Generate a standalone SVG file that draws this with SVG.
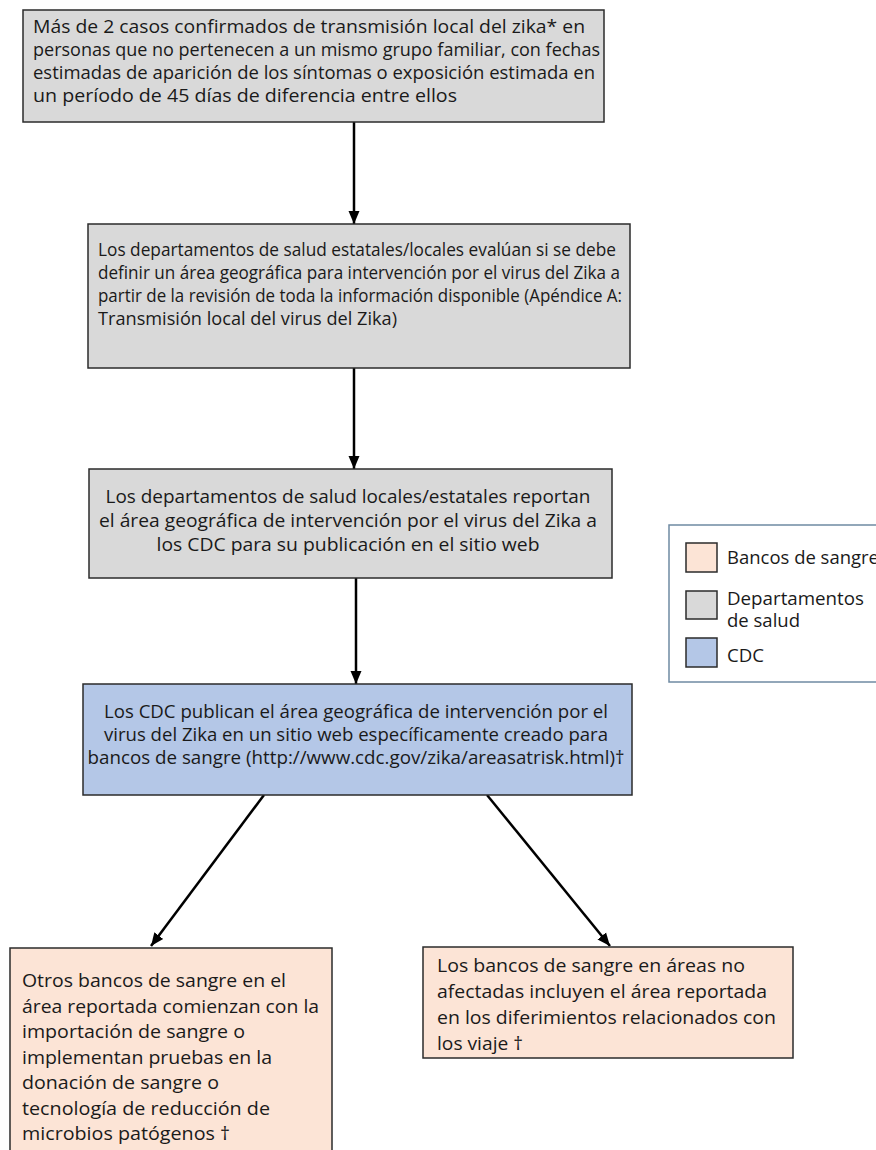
<svg xmlns="http://www.w3.org/2000/svg" width="876" height="1150" viewBox="0 0 876 1150">
<defs>
<style>
.box{stroke:#2b2b2b;stroke-width:1.5}
.gray{fill:#d9d9d9}
.blue{fill:#b4c7e7}
.peach{fill:#fce4d6}
.t{font-family:"Open Sans","Noto Sans",sans-serif;fill:#1a1a1a}
.c{text-anchor:middle}
.conn{stroke:#000;stroke-width:2.5;fill:none}
.leg{fill:#fff;stroke:#6f8aa3;stroke-width:1.5}
</style>
<marker id="ah" markerUnits="userSpaceOnUse" markerWidth="14" markerHeight="14" viewBox="0 0 14 14" refX="13" refY="7" orient="auto">
<path d="M0,1.5 L13,7 L0,12.5 Z" fill="#000"/>
</marker>
</defs>
<rect width="876" height="1150" fill="#fff"/>

<g id="connectors">
<line class="conn" x1="354" y1="122" x2="354" y2="224" marker-end="url(#ah)"/>
<line class="conn" x1="354" y1="368" x2="354" y2="469" marker-end="url(#ah)"/>
<line class="conn" x1="356" y1="578" x2="356" y2="684" marker-end="url(#ah)"/>
<line class="conn" x1="264" y1="795" x2="151" y2="946" marker-end="url(#ah)"/>
<line class="conn" x1="487" y1="795" x2="610" y2="946" marker-end="url(#ah)"/>
</g>

<g id="n1">
<rect class="box gray" x="23" y="10" width="581" height="112"/>
<g class="t" font-size="17.5">
<text x="33" y="33" textLength="552" lengthAdjust="spacingAndGlyphs">Más de 2 casos confirmados de transmisión local del zika* en</text>
<text x="33" y="56" textLength="567" lengthAdjust="spacingAndGlyphs">personas que no pertenecen a un mismo grupo familiar, con fechas</text>
<text x="33" y="79" textLength="562" lengthAdjust="spacingAndGlyphs">estimadas de aparición de los síntomas o exposición estimada en</text>
<text x="33" y="102" textLength="424" lengthAdjust="spacingAndGlyphs">un período de 45 días de diferencia entre ellos</text>
</g>
</g>

<g id="n2">
<rect class="box gray" x="88" y="224" width="542" height="144"/>
<g class="t" font-size="17.5">
<text x="98" y="256" textLength="518" lengthAdjust="spacingAndGlyphs">Los departamentos de salud estatales/locales evalúan si se debe</text>
<text x="98" y="279" textLength="522" lengthAdjust="spacingAndGlyphs">definir un área geográfica para intervención por el virus del Zika a</text>
<text x="98" y="302" textLength="524" lengthAdjust="spacingAndGlyphs">partir de la revisión de toda la información disponible (Apéndice A:</text>
<text x="98" y="325" textLength="299" lengthAdjust="spacingAndGlyphs">Transmisión local del virus del Zika)</text>
</g>
</g>

<g id="n3">
<rect class="box gray" x="89" y="469" width="523" height="109"/>
<g class="t c" font-size="18">
<text x="348" y="503" textLength="485" lengthAdjust="spacingAndGlyphs">Los departamentos de salud locales/estatales reportan</text>
<text x="348" y="527" textLength="498" lengthAdjust="spacingAndGlyphs">el área geográfica de intervención por el virus del Zika a</text>
<text x="348" y="551" textLength="383" lengthAdjust="spacingAndGlyphs">los CDC para su publicación en el sitio web</text>
</g>
</g>

<g id="n4">
<rect class="box blue" x="83" y="684" width="549" height="111"/>
<g class="t c" font-size="18">
<text x="356" y="718" textLength="504" lengthAdjust="spacingAndGlyphs">Los CDC publican el área geográfica de intervención por el</text>
<text x="356" y="741" textLength="504" lengthAdjust="spacingAndGlyphs">virus del Zika en un sitio web específicamente creado para</text>
<text x="356" y="764" textLength="537" lengthAdjust="spacingAndGlyphs">bancos de sangre (http://www.cdc.gov/zika/areasatrisk.html)†</text>
</g>
</g>

<g id="n5">
<rect class="box peach" x="10" y="948" width="322" height="215"/>
<g class="t" font-size="19">
<text x="22" y="987" textLength="264" lengthAdjust="spacingAndGlyphs">Otros bancos de sangre en el</text>
<text x="22" y="1013" textLength="297" lengthAdjust="spacingAndGlyphs">área reportada comienzan con la</text>
<text x="22" y="1038" textLength="223" lengthAdjust="spacingAndGlyphs">importación de sangre o</text>
<text x="22" y="1064" textLength="250" lengthAdjust="spacingAndGlyphs">implementan pruebas en la</text>
<text x="22" y="1089" textLength="197" lengthAdjust="spacingAndGlyphs">donación de sangre o</text>
<text x="22" y="1115" textLength="248" lengthAdjust="spacingAndGlyphs">tecnología de reducción de</text>
<text x="22" y="1140" textLength="208" lengthAdjust="spacingAndGlyphs">microbios patógenos †</text>
</g>
</g>

<g id="n6">
<rect class="box peach" x="423" y="947" width="370" height="111"/>
<g class="t" font-size="19">
<text x="437" y="972" textLength="308" lengthAdjust="spacingAndGlyphs">Los bancos de sangre en áreas no</text>
<text x="437" y="998" textLength="330" lengthAdjust="spacingAndGlyphs">afectadas incluyen el área reportada</text>
<text x="437" y="1024" textLength="339" lengthAdjust="spacingAndGlyphs">en los diferimientos relacionados con</text>
<text x="437" y="1050" textLength="86" lengthAdjust="spacingAndGlyphs">los viaje †</text>
</g>
</g>

<g id="legend">
<rect class="leg" x="669" y="525" width="230" height="157"/>
<rect class="box peach" x="686" y="543" width="31" height="29"/>
<rect class="box gray" x="686" y="591" width="31" height="28"/>
<rect class="box blue" x="686" y="638" width="31" height="29"/>
<g class="t" font-size="18">
<text x="727" y="564" textLength="152" lengthAdjust="spacingAndGlyphs">Bancos de sangre</text>
<text x="727" y="605" textLength="137" lengthAdjust="spacingAndGlyphs">Departamentos</text>
<text x="727" y="627" textLength="73" lengthAdjust="spacingAndGlyphs">de salud</text>
<text x="727" y="662" textLength="37" lengthAdjust="spacingAndGlyphs">CDC</text>
</g>
</g>
</svg>
